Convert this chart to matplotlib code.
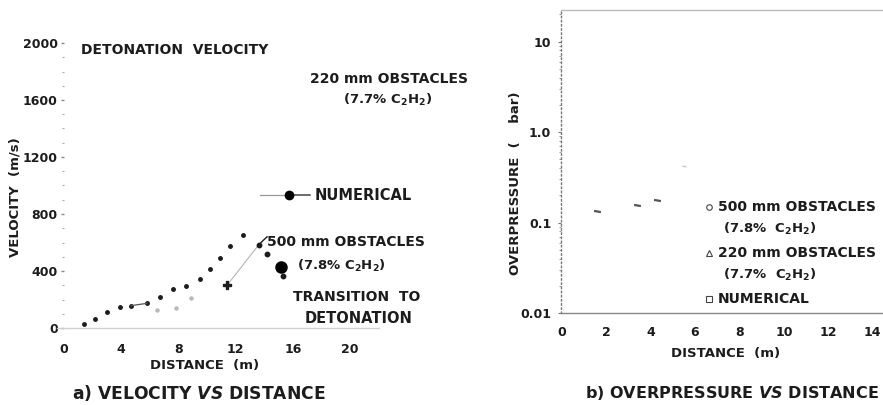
import matplotlib
matplotlib.use("Agg")
import matplotlib.pyplot as plt
import numpy as np

plt.rcParams['font.family'] = ['DejaVu Sans']
plt.rcParams['font.weight'] = 'bold'
plt.rcParams['mathtext.fontset'] = 'custom'
plt.rcParams['mathtext.rm'] = 'DejaVu Sans:bold'
plt.rcParams['mathtext.it'] = 'DejaVu Sans:italic'
plt.rcParams['mathtext.bf'] = 'DejaVu Sans:bold'

INK = '#1c1c1c'

# ---------------- data: panel a (velocity vs distance) ----------------
obs220_x = [1.4, 2.2, 3.0, 3.9, 4.7, 5.8, 6.7, 7.6, 8.5, 9.5, 10.2, 10.9, 11.6, 12.5]
obs220_v = [26, 63, 110, 150, 157, 173, 215, 272, 295, 342, 416, 493, 575, 653]
obs500_x = [11.4, 13.6, 14.2, 15.3]
obs500_v = [300, 582, 519, 365]
faint_x = [6.5, 7.8, 8.9]
faint_v = [125, 140, 210]
num_x = [15.2]
num_v = [430]
vel_ticks = [0, 400, 800, 1200, 1600, 2000]
dist_ticks_a = [0, 4, 8, 12, 16, 20]

# ---------------- data: panel b (overpressure vs distance) ----------------
op_x = [1.6, 3.4, 4.3]
op_p = [0.134, 0.155, 0.177]
op_faint_x = [5.5]
op_faint_p = [0.42]
p_ticks = [0.01, 0.1, 1.0, 10]
p_labels = ['0.01', '0.1', '1.0', '10']
dist_ticks_b = [0, 2, 4, 6, 8, 10, 12, 14]

W, H = 883, 405
fig = plt.figure(figsize=(W / 100, H / 100), dpi=100)


def fx(px):
    return px / W


def fy(py):
    return 1 - py / H


# ---------------- panel a ----------------
ax1 = fig.add_axes([fx(64), fy(328), fx(443) - fx(64), fy(43) - fy(328)])
ax1.set_xlim(0, 26.5)
ax1.set_ylim(0, 2000)
for s in ['top', 'right', 'left']:
    ax1.spines[s].set_visible(False)
ax1.spines['bottom'].set_bounds(-0.5, 22)
ax1.spines['bottom'].set_color('#d0d0d0')
ax1.spines['bottom'].set_linewidth(1.0)
ax1.set_yticks(vel_ticks)
ax1.set_yticklabels([str(v) for v in vel_ticks])
ax1.set_yticks(np.arange(0, 2001, 100), minor=True)
ax1.tick_params(axis='y', which='major', length=2.5, width=1.0, color='#888888',
                labelsize=9, labelcolor=INK, pad=2)
ax1.tick_params(axis='y', which='minor', length=1.5, width=0.8, color='#aaaaaa')
ax1.set_xticks(dist_ticks_a)
ax1.set_xticklabels([str(v) for v in dist_ticks_a])
ax1.tick_params(axis='x', length=0, labelsize=9, labelcolor=INK, pad=11)
for lab in ax1.get_xticklabels() + ax1.get_yticklabels():
    lab.set_fontweight('bold')

ax1.plot(obs220_x, obs220_v, 'o', ms=2.5, color=INK, ls='none')
ax1.plot(obs220_x[4:6], obs220_v[4:6], '-', lw=0.9, color='#555555')
ax1.plot(faint_x, faint_v, 'o', ms=2.2, color='#b8b8b8', ls='none')
ax1.plot(obs500_x[:2], obs500_v[:2], '-', lw=0.7, color='#aaaaaa')
ax1.plot(obs500_x[0], obs500_v[0], 'P', ms=6, color=INK)
ax1.plot(obs500_x[1:], obs500_v[1:], 'o', ms=3.2, color=INK, ls='none')
ax1.plot(num_x, num_v, 'o', ms=8, color='black')

# legend sample "—●— NUMERICAL"
ax1.plot([13.7, 15.7], [933, 933], '-', lw=0.9, color='#999999')
ax1.plot([15.7, 17.2], [933, 933], '-', lw=1.1, color='#444444')
ax1.plot([15.7], [933], 'o', ms=6, color='black')
ax1.text(17.55, 933, 'NUMERICAL', fontsize=10.5, color=INK, va='center', ha='left')

# leader curl for 500 mm label
ax1.plot([13.6, 13.9, 14.2], [582, 612, 640], '-', lw=1.0, color=INK)
ax1.text(14.2, 603, '500 mm OBSTACLES', fontsize=10, color=INK, va='center', ha='left')
ax1.text(16.3, 435, '(7.8% C$_2$H$_2$)', fontsize=9.5, color=INK, va='center', ha='left')
ax1.text(16.0, 218, 'TRANSITION  TO', fontsize=10, color=INK, va='center', ha='left')
ax1.text(16.85, 70, 'DETONATION', fontsize=10.5, color=INK, va='center', ha='left')
ax1.text(1.19, 1951, 'DETONATION  VELOCITY', fontsize=10, color=INK, va='center', ha='left')
ax1.text(17.2, 1747, '220 mm OBSTACLES', fontsize=10, color=INK, va='center', ha='left')
ax1.text(19.5, 1600, '(7.7% C$_2$H$_2$)', fontsize=9.5, color=INK, va='center', ha='left')

fig.text(fx(15), fy(197), 'VELOCITY  (m/s)', rotation=90, fontsize=9.5, color=INK,
         ha='center', va='center')
fig.text(fx(205), fy(366), 'DISTANCE  (m)', fontsize=9.5, color=INK, ha='center', va='center')
fig.text(fx(199), fy(393), 'a) VELOCITY $\\mathit{VS}$ DISTANCE', fontsize=12.3, color=INK,
         ha='center', va='center')

# ---------------- panel b ----------------
ax2 = fig.add_axes([fx(561), fy(313), fx(883) - fx(561), fy(10) - fy(313)])
ax2.set_yscale('log')
ax2.set_xlim(-0.03, 14.46)
ax2.set_ylim(0.01, 22.3)
ax2.spines['right'].set_visible(False)
ax2.spines['top'].set_color('#bbbbbb')
ax2.spines['top'].set_linewidth(1.0)
ax2.spines['bottom'].set_color('#888888')
ax2.spines['bottom'].set_linewidth(1.0)
ax2.spines['left'].set_color('#777777')
ax2.spines['left'].set_linestyle((0, (1, 2)))
ax2.spines['left'].set_linewidth(1.0)
ax2.set_yticks(p_ticks)
ax2.set_yticklabels(p_labels)
ax2.tick_params(axis='y', which='major', length=2, width=0.8, color='#777777',
                labelsize=9, labelcolor=INK, pad=5)
ax2.tick_params(axis='y', which='minor', length=1.5, width=0.7, color='#999999')
ax2.set_xticks(dist_ticks_b)
ax2.set_xticklabels([str(v) for v in dist_ticks_b])
ax2.tick_params(axis='x', length=0, labelsize=9, labelcolor=INK, pad=9)
for lab in ax2.get_xticklabels() + ax2.get_yticklabels():
    lab.set_fontweight('bold')

ax2.plot(op_x, op_p, marker=(2, 0, 80), ms=5, mew=1.6, color='#555555', ls='none')
ax2.plot(op_faint_x, op_faint_p, marker=(2, 0, 80), ms=3, mew=1.0, color='#c8c8c8', ls='none')

tr = ax2.transAxes


def ax2fx(px):
    return (px - 561) / 322


def ax2fy(py):
    return (313 - py) / 303


ax2.plot([ax2fx(709)], [ax2fy(207)], 'o', ms=4, mfc='white', mec='#444444', mew=0.8,
         transform=tr, clip_on=False)
ax2.plot([ax2fx(709)], [ax2fy(253)], '^', ms=4, mfc='white', mec='#444444', mew=0.8,
         transform=tr, clip_on=False)
ax2.plot([ax2fx(709)], [ax2fy(299)], 's', ms=4, mfc='white', mec='#444444', mew=0.8,
         transform=tr, clip_on=False)
ax2.text(ax2fx(718), ax2fy(207), '500 mm OBSTACLES', fontsize=10, color=INK,
         transform=tr, va='center', ha='left')
ax2.text(ax2fx(723), ax2fy(229), '(7.8%  C$_2$H$_2$)', fontsize=9.5, color=INK,
         transform=tr, va='center', ha='left')
ax2.text(ax2fx(718), ax2fy(253), '220 mm OBSTACLES', fontsize=10, color=INK,
         transform=tr, va='center', ha='left')
ax2.text(ax2fx(723), ax2fy(275), '(7.7%  C$_2$H$_2$)', fontsize=9.5, color=INK,
         transform=tr, va='center', ha='left')
ax2.text(ax2fx(718), ax2fy(299), 'NUMERICAL', fontsize=10, color=INK,
         transform=tr, va='center', ha='left')

fig.text(fx(515), fy(183), 'OVERPRESSURE  (    bar)', rotation=90, fontsize=9.5, color=INK,
         ha='center', va='center')
fig.text(fx(726), fy(353), 'DISTANCE  (m)', fontsize=9.5, color=INK, ha='center', va='center')
fig.text(fx(732), fy(393), 'b) OVERPRESSURE $\\mathit{VS}$ DISTANCE', fontsize=11.5, color=INK,
         ha='center', va='center')

fig.savefig('out.png', dpi=100)
